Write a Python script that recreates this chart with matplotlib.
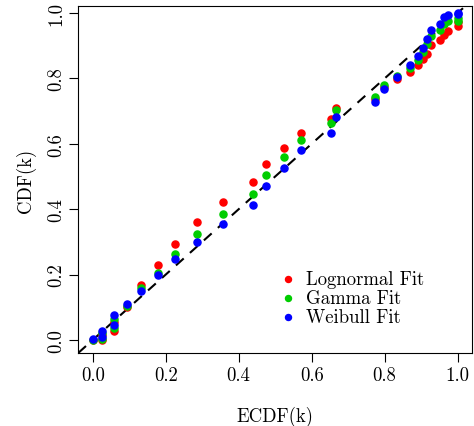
import matplotlib
matplotlib.use('Agg')
import matplotlib.pyplot as plt

plt.rcParams['font.family'] = 'serif'
plt.rcParams['font.serif'] = ['cmr10', 'DejaVu Serif']
plt.rcParams['mathtext.fontset'] = 'cm'
plt.rcParams['axes.formatter.use_mathtext'] = True

# empirical vs fitted CDF values
ecdf = [0.000, 0.024, 0.024, 0.059, 0.059, 0.095, 0.131, 0.178, 0.226, 0.286,
        0.357, 0.440, 0.476, 0.523, 0.571, 0.654, 0.666, 0.773, 0.798, 0.833,
        0.869, 0.892, 0.905, 0.917, 0.928, 0.953, 0.962, 0.975, 1.000, 1.000]
lognorm = [0.000, 0.000, 0.015, 0.027, 0.055, 0.100, 0.167, 0.229, 0.295, 0.361,
           0.423, 0.482, 0.537, 0.587, 0.634, 0.675, 0.709, 0.738, 0.775, 0.797,
           0.821, 0.842, 0.860, 0.875, 0.903, 0.917, 0.932, 0.945, 0.962, 0.972]
gamma = [0.001, 0.003, 0.020, 0.035, 0.063, 0.104, 0.158, 0.206, 0.263, 0.323,
         0.385, 0.445, 0.505, 0.560, 0.611, 0.663, 0.703, 0.743, 0.781, 0.807,
         0.832, 0.857, 0.880, 0.905, 0.930, 0.948, 0.968, 0.975, 0.975, 0.985]
weibull = [0.002, 0.009, 0.026, 0.045, 0.075, 0.109, 0.150, 0.198, 0.247, 0.300,
           0.355, 0.413, 0.470, 0.526, 0.582, 0.633, 0.682, 0.728, 0.769, 0.804,
           0.840, 0.868, 0.893, 0.921, 0.947, 0.967, 0.988, 0.993, 0.996, 1.000]

fs = 13.5

fig = plt.figure(figsize=(4.74, 4.27), dpi=100)
ax = fig.add_axes([0.165, 0.171, 0.831, 0.812])

ax.scatter(ecdf, lognorm, s=26, color='#FF0000', label='Lognormal Fit', zorder=3)
ax.scatter(ecdf, gamma, s=26, color='#00CD00', label='Gamma Fit', zorder=3)
ax.scatter(ecdf, weibull, s=26, color='#0000FF', label='Weibull Fit', zorder=3)
ax.axline((0, 0), slope=1, color='black', lw=1.5, linestyle=(0, (5, 4)), zorder=2)

ax.set_xlim(-0.04, 1.04)
ax.set_ylim(-0.04, 1.021)
ticks = [0.0, 0.2, 0.4, 0.6, 0.8, 1.0]
ax.set_xticks(ticks)
ax.set_yticks(ticks)
ax.set_xticklabels(['%.1f' % t for t in ticks])
ax.set_yticklabels(['%.1f' % t for t in ticks], rotation=90, va='center')
ax.tick_params(length=6.5, width=0.8, labelsize=fs, pad=3)
for s in ax.spines.values():
    s.set_linewidth(0.8)
ax.set_xlabel('ECDF(k)', fontsize=fs, labelpad=16)
ax.set_ylabel('CDF(k)', fontsize=fs, labelpad=8)

ax.legend(loc='lower left', bbox_to_anchor=(0.465, 0.055), frameon=False,
          fontsize=fs, handletextpad=0.0, labelspacing=0.08, borderaxespad=0,
          markerscale=0.85, scatterpoints=1)

fig.savefig('out.png', dpi=100)
